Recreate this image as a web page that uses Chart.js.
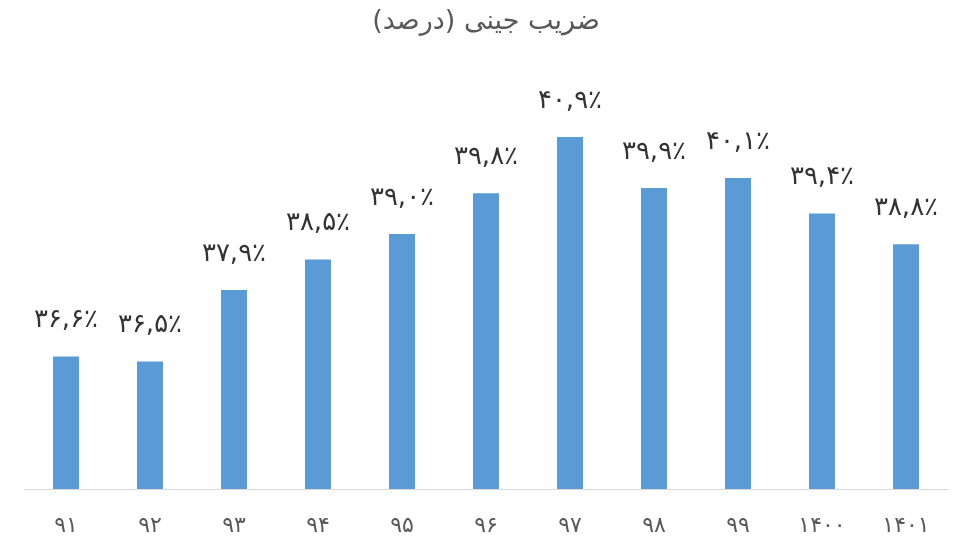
<!DOCTYPE html>
<html>

<head>
    <title>ضریب جینی</title>
    <meta charset="utf-8">
    <script src="https://cdn.jsdelivr.net/npm/chart.js@4.4.0/dist/chart.umd.min.js"></script>
    <style>
        body {
            margin: 0;
            background: #fff;
        }

        .wrap {
            width: 970px;
            height: 555px;
        }
    </style>
</head>

<body>
    <div class="wrap">
        <canvas id="gini-Chart" width="970" height="555"></canvas>
    </div>
    <script>
        // Data
        const years = ['۹۱', '۹۲', '۹۳', '۹۴', '۹۵', '۹۶', '۹۷', '۹۸', '۹۹', '۱۴۰۰', '۱۴۰۱'];
        const giniValues = [36.6, 36.5, 37.9, 38.5, 39.0, 39.8, 40.9, 39.9, 40.1, 39.4, 38.8];
        const valueLabels = ['۳۶,۶٪', '۳۶,۵٪', '۳۷,۹٪', '۳۸,۵٪', '۳۹,۰٪', '۳۹,۸٪', '۴۰,۹٪', '۳۹,۹٪', '۴۰,۱٪', '۳۹,۴٪', '۳۸,۸٪'];
        const chartTitle = 'ضریب جینی (درصد)';

        const fontFamily = '"DejaVu Sans", sans-serif';

        // draws the % labels above each bar
        const barLabels = {
            id: 'barLabels',
            afterDatasetsDraw(chart) {
                const ctx = chart.ctx;
                const meta = chart.getDatasetMeta(0);
                ctx.save();
                ctx.font = '26px ' + fontFamily;
                ctx.fillStyle = '#333333';
                ctx.textAlign = 'center';
                ctx.textBaseline = 'middle';
                ctx.direction = 'ltr';
                meta.data.forEach((bar, i) => {
                    ctx.fillText(valueLabels[i], bar.x, bar.y - 36);
                });
                ctx.restore();
            }
        };

        new Chart(document.getElementById('gini-Chart'), {
            type: 'bar',
            data: {
                labels: years,
                datasets: [{
                    label: 'Gini',
                    data: giniValues,
                    backgroundColor: '#5b9bd5',
                    borderWidth: 0,
                    barPercentage: 0.31,
                    categoryPercentage: 1
                }]
            },
            options: {
                responsive: false,
                animation: false,
                layout: { padding: { left: 24, right: 22, bottom: 0 } },
                plugins: {
                    legend: { display: false },
                    tooltip: { enabled: false },
                    title: {
                        display: true,
                        text: chartTitle,
                        color: '#595959',
                        font: { family: fontFamily, size: 27, weight: 'normal' },
                        padding: { top: 6, bottom: 42.6 }
                    }
                },
                scales: {
                    x: {
                        grid: { display: false, drawTicks: false },
                        border: { color: '#d9d9d9', width: 1 },
                        ticks: {
                            color: '#595959',
                            font: { family: fontFamily, size: 22 },
                            padding: 24
                        },
                        afterFit(scale) { scale.height = 66; }
                    },
                    y: {
                        display: false,
                        min: 34,
                        max: 42
                    }
                }
            },
            plugins: [barLabels]
        });
    </script>
</body>

</html>
